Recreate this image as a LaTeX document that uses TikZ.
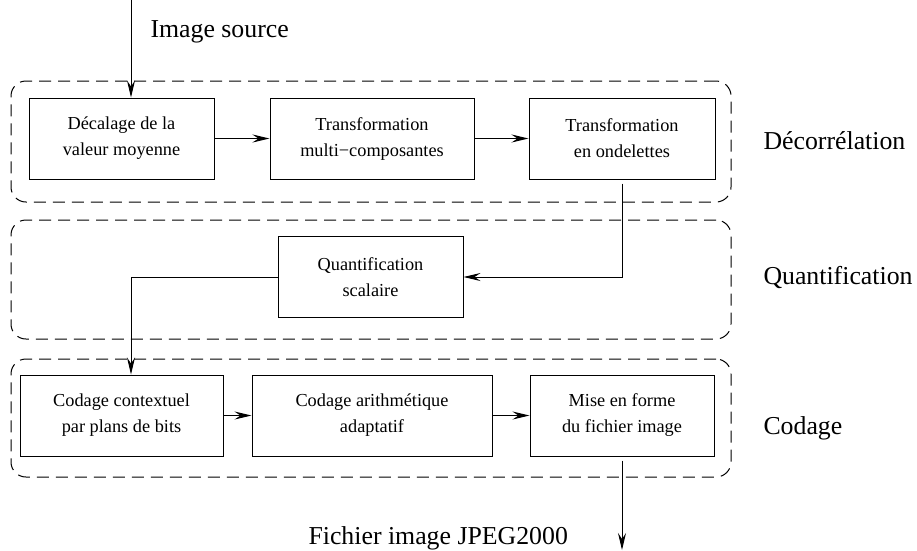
\documentclass[tikz,border=0pt]{standalone}
\usepackage{fontspec}
\setmainfont{Liberation Serif}
\usepackage{tikz}
\usetikzlibrary{arrows.meta,positioning,calc}

\begin{document}
\begin{tikzpicture}[
  x=1pt, y=-1pt, line width=1pt,
  box/.style={draw, minimum height=81pt, inner sep=0pt, align=center,
    font=\fontsize{18.3}{26}\selectfont},
  group/.style={draw, dashed, dash pattern=on 12pt off 7pt,
    rounded corners=15pt},
  grouptext/.style={anchor=base west, inner sep=0pt,
    font=\fontsize{25.8}{30}\selectfont},
  arrow/.style={-{Stealth[length=17pt, width=8pt, inset=6pt]}}
]
\useasboundingbox (0,0) rectangle (917,550);

% stages
\node[group, minimum width=720pt, minimum height=121pt] (gdecor) at (371,141.5) {};
\node[group, minimum width=720pt, minimum height=119pt] (gquant) at (371,279.5) {};
\node[group, minimum width=720pt, minimum height=118pt] (gcod) at (371,418) {};

\node[grouptext] (tdecor) at (763,149) {Décorrélation};
\node[grouptext] (tquant) at (763,284) {Quantification};
\node[grouptext] (tcod) at (763,434) {Codage};

% blocks
\node[box, minimum width=185pt] (decal) at (121.5,138.5)
  {Décalage de la\\valeur moyenne};
\node[box, minimum width=204pt, right=55pt of decal] (multi)
  {Transformation\\multi−composantes};
\node[box, minimum width=186pt, right=54pt of multi] (ondel)
  {Transformation\\en ondelettes};
\node[box, minimum width=185pt] (quant) at (370.5,277)
  {Quantification\\scalaire};
\node[box, minimum width=203pt] (ctx) at (121.5,415.5)
  {Codage contextuel\\par plans de bits};
\node[box, minimum width=240pt, right=28pt of ctx] (arith)
  {Codage arithmétique\\adaptatif};
\node[box, minimum width=184pt, right=37pt of arith] (mise)
  {Mise en forme\\du fichier image};

% input / output
\coordinate (src) at (131,0);
\coordinate (out) at (621,550);
\node[grouptext] (tsrc) at (150,37) {Image source};
\node[grouptext] (tout) at (308,544) {Fichier image JPEG2000};

\draw[arrow] (src) -- (src |- decal.north);
\draw[arrow] (decal) -- (multi);
\draw[arrow] (multi) -- (ondel);
\draw[arrow, shorten <=4pt] (ondel.south) |- (quant.east);
\draw[arrow] (quant.west) -| (src |- ctx.north);
\draw[arrow] (ctx) -- (arith);
\draw[arrow] (arith) -- (mise);
\draw[arrow, shorten <=4pt] (mise.south) -- (mise.south |- out);

\end{tikzpicture}
\end{document}
